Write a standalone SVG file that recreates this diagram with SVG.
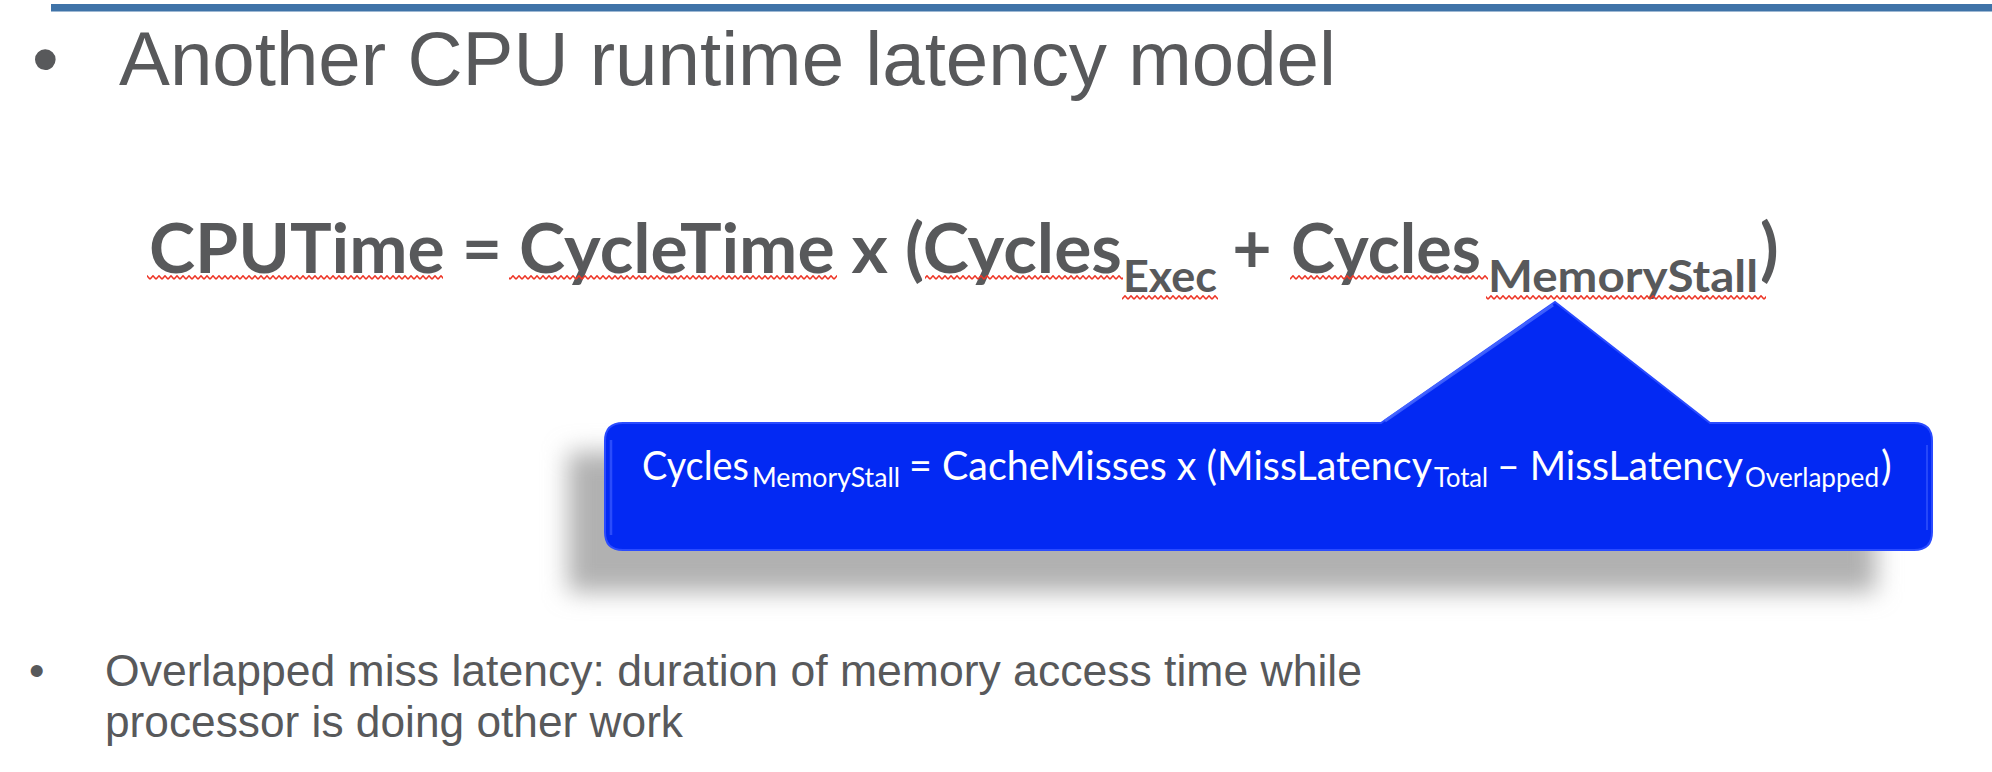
<svg xmlns="http://www.w3.org/2000/svg" width="1992" height="772" viewBox="0 0 1992 772">
  <style>
    .gray { fill: #58595b; }
    .title { font-family: "Liberation Sans", Arial, sans-serif; font-size: 76px; }
    .note { font-family: "Liberation Sans", Arial, sans-serif; font-size: 44px; }
    .eq { font-family: Lato, "Open Sans", sans-serif; font-weight: 700; font-size: 68px; }
    .eqsub { font-family: Lato, "Open Sans", sans-serif; font-weight: 700; font-size: 44px; }
    .co { font-family: Lato, "Open Sans", sans-serif; font-size: 40px; fill: #ffffff; }
    .cosub { font-family: Lato, "Open Sans", sans-serif; font-size: 26px; fill: #ffffff; }
  </style>
  <defs>
    <pattern id="squiggle" patternUnits="userSpaceOnUse" x="0" y="0" width="6" height="5">
      <path d="M0 4.2 L3 0.8 L6 4.2" fill="none" stroke="#ee3526" stroke-width="1.5"/>
    </pattern>
    <filter id="blur" x="-10%" y="-40%" width="120%" height="180%">
      <feGaussianBlur stdDeviation="12"/>
    </filter>
  </defs>
  <rect width="1992" height="772" fill="#ffffff"/>

  <!-- top rule -->
  <rect x="51" y="4" width="1941" height="7.5" fill="#3f73a8"/>

  <g id="title">
    <text class="title gray" x="32" y="85">•</text>
    <text class="title gray" x="119" y="85" textLength="1217" lengthAdjust="spacingAndGlyphs">Another CPU runtime latency model</text>
  </g>

  <g id="equation">
    <text class="eq gray" x="149" y="273" textLength="973" lengthAdjust="spacingAndGlyphs">CPUTime = CycleTime x (Cycles</text>
    <text class="eqsub gray" x="1123" y="292" textLength="94" lengthAdjust="spacingAndGlyphs">Exec</text>
    <text class="eq gray" x="1252" y="273" text-anchor="middle">+</text>
    <text class="eq gray" x="1291" y="273" textLength="190" lengthAdjust="spacingAndGlyphs">Cycles</text>
    <text class="eqsub gray" x="1488" y="292" textLength="270" lengthAdjust="spacingAndGlyphs">MemoryStall</text>
    <text class="eq gray" x="1760" y="273">)</text>
    <g id="spellcheck">
      <rect x="147" y="275" width="296" height="5" fill="url(#squiggle)"/>
      <rect x="509" y="275" width="328" height="5" fill="url(#squiggle)"/>
      <rect x="925" y="275" width="198" height="5" fill="url(#squiggle)"/>
      <rect x="1122" y="295" width="96" height="5" fill="url(#squiggle)"/>
      <rect x="1290" y="275" width="198" height="5" fill="url(#squiggle)"/>
      <rect x="1486" y="295" width="280" height="5" fill="url(#squiggle)"/>
    </g>
  </g>

  <g id="callout">
    <rect x="568" y="452" width="1308" height="140" fill="#b1b1b1" filter="url(#blur)"/>
    <path d="M623 423 H1381 L1555 302 L1710 423 H1914 Q1932 423 1932 441 V532 Q1932 550 1914 550 H623 Q605 550 605 532 V441 Q605 423 623 423 Z" fill="#0329f3" stroke="#2a4bff" stroke-width="2"/>
    <line x1="1385" y1="421" x2="1553" y2="305" stroke="#4a6aff" stroke-width="3" opacity="0.8"/>
    <line x1="611" y1="440" x2="611" y2="535" stroke="#3d5cff" stroke-width="2.5" opacity="0.7"/>
    <line x1="1927" y1="445" x2="1927" y2="530" stroke="#3d5cff" stroke-width="2" opacity="0.6"/>
    <text class="co" x="642" y="480" textLength="107" lengthAdjust="spacingAndGlyphs">Cycles</text>
    <text class="cosub" x="752" y="487" textLength="148" lengthAdjust="spacingAndGlyphs">MemoryStall</text>
    <text class="co" x="909" y="480" textLength="523" lengthAdjust="spacingAndGlyphs">= CacheMisses x (MissLatency</text>
    <text class="cosub" x="1434" y="487" textLength="54" lengthAdjust="spacingAndGlyphs">Total</text>
    <text class="co" x="1497" y="480" textLength="246" lengthAdjust="spacingAndGlyphs">– MissLatency</text>
    <text class="cosub" x="1745" y="487" textLength="134" lengthAdjust="spacingAndGlyphs">Overlapped</text>
    <text class="co" x="1881" y="480">)</text>
  </g>

  <g id="connectors"></g>

  <g id="note">
    <text class="note gray" x="29" y="686">•</text>
    <text class="note gray" x="105" y="686" textLength="1257" lengthAdjust="spacingAndGlyphs">Overlapped miss latency: duration of memory access time while</text>
    <text class="note gray" x="105" y="737" textLength="578" lengthAdjust="spacingAndGlyphs">processor is doing other work</text>
  </g>
</svg>
